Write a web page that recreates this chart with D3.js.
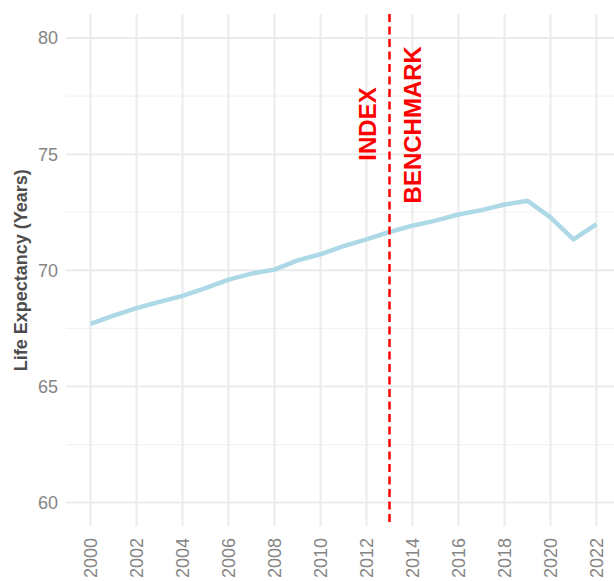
<!DOCTYPE html>
<html lang='en'>
	<head>
		<meta charset='utf-8'>
		<title>Life expectancy</title>
		<script type='text/javascript' src='https://cdn.jsdelivr.net/npm/d3@7'></script>
		<style>
			body { margin: 0; background: #fff; }
		</style>
	</head>
	<body>
	</body>
	<script type='text/javascript'>
	var years = d3.range(2000, 2023);
	var life_exp = [67.69, 68.05, 68.37, 68.64, 68.90, 69.23, 69.60, 69.86, 70.03, 70.43, 70.69, 71.04,
		71.33, 71.65, 71.92, 72.14, 72.40, 72.59, 72.83, 72.99, 72.28, 71.33, 71.99];
	var x_ticks = d3.range(2000, 2023, 2);
	var y_ticks = [60, 65, 70, 75, 80];
	var y_minor = [62.5, 67.5, 72.5, 77.5];
	var index_year = 2013;

	function plot_it() {
		var width = 614, height = 581;
		var p_left = 66, p_right = 614, p_top = 14, p_bottom = 526;

		var svg = d3.select('body').append('svg').attr('width', width).attr('height', height)
			.style('font-family', 'Liberation Sans, Arial, sans-serif');

		var x_scale = d3.scaleLinear().domain([2000, 2022]).range([90.5, 596.5]);
		var y_scale = d3.scaleLinear().domain([60, 80]).range([502.6, 38]);

		var grid = svg.append('g');
		grid.selectAll('line.minor').data(y_minor).enter().append('line')
			.attr('x1', p_left).attr('x2', p_right)
			.attr('y1', d => y_scale(d)).attr('y2', d => y_scale(d))
			.attr('stroke', '#f2f2f2').attr('stroke-width', 1.2);
		grid.selectAll('line.majory').data(y_ticks).enter().append('line')
			.attr('x1', p_left).attr('x2', p_right)
			.attr('y1', d => y_scale(d)).attr('y2', d => y_scale(d))
			.attr('stroke', '#ebebeb').attr('stroke-width', 2);
		grid.selectAll('line.majorx').data(x_ticks).enter().append('line')
			.attr('x1', d => x_scale(d)).attr('x2', d => x_scale(d))
			.attr('y1', p_top).attr('y2', p_bottom)
			.attr('stroke', '#ebebeb').attr('stroke-width', 2);

		// y axis labels
		svg.append('g').selectAll('text').data(y_ticks).enter().append('text')
			.attr('x', 58).attr('y', d => y_scale(d))
			.attr('dy', '0.36em').attr('text-anchor', 'end')
			.attr('font-size', '18px').attr('fill', '#858585')
			.text(d => d);

		// x axis labels rotated
		svg.append('g').selectAll('text').data(x_ticks).enter().append('text')
			.attr('transform', d => 'translate(' + x_scale(d) + ',' + 538 + ')rotate(-90)')
			.attr('dy', '0.36em').attr('text-anchor', 'end')
			.attr('font-size', '18px').attr('fill', '#858585')
			.text(d => d);

		svg.append('text')
			.attr('transform', 'translate(' + 20.5 + ',' + y_scale(70) + ')rotate(-90)')
			.attr('dy', '0.36em').attr('text-anchor', 'middle')
			.attr('font-size', '18px').attr('font-weight', 'bold').attr('fill', '#4d4d4d')
			.text('Life Expectancy (Years)');

		var line = d3.line().x((d, i) => x_scale(years[i])).y(d => y_scale(d));
		svg.append('path').datum(life_exp)
			.attr('d', line)
			.attr('fill', 'none').attr('stroke', '#add8e6').attr('stroke-width', 4.5)
			.attr('stroke-linejoin', 'round');

		svg.append('line')
			.attr('x1', x_scale(index_year)).attr('x2', x_scale(index_year))
			.attr('y1', p_top).attr('y2', p_bottom)
			.attr('stroke', 'red').attr('stroke-width', 2.5)
			.attr('stroke-dasharray', '8,4.5');

		svg.append('text')
			.attr('transform', 'translate(' + x_scale(2012.04) + ',' + y_scale(74.72) + ')rotate(-90)')
			.attr('dy', '0.36em')
			.attr('font-size', '24px').attr('font-weight', 'bold').attr('fill', 'red')
			.text('INDEX');
		svg.append('text')
			.attr('transform', 'translate(' + x_scale(2014.0) + ',' + y_scale(72.88) + ')rotate(-90)')
			.attr('dy', '0.36em')
			.attr('font-size', '24px').attr('font-weight', 'bold').attr('fill', 'red')
			.text('BENCHMARK');
	}
	plot_it();
	</script>
</html>
